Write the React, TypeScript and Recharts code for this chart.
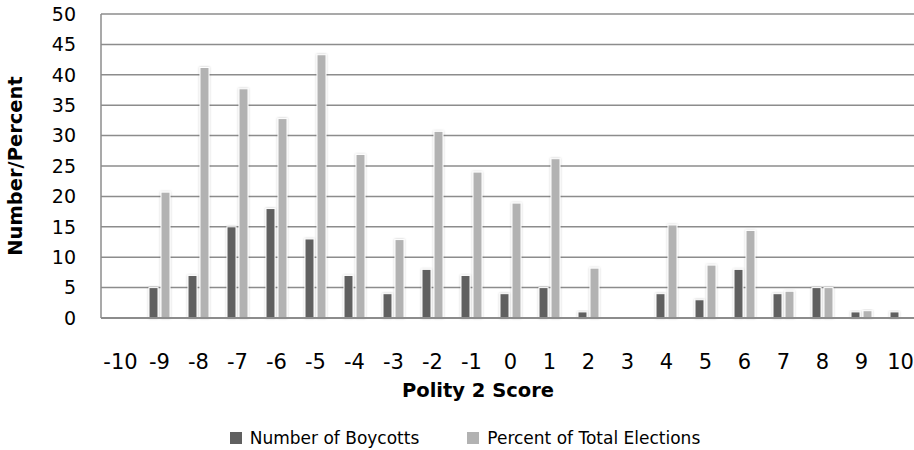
import React from 'react';
import { BarChart, Bar, XAxis, YAxis, CartesianGrid, Legend } from 'recharts';

// Polity 2 score categories and the two series
const scores = ['-10', '-9', '-8', '-7', '-6', '-5', '-4', '-3', '-2', '-1', '0', '1', '2', '3', '4', '5', '6', '7', '8', '9', '10'];
const boycotts = [0, 5, 7, 15, 18, 13, 7, 4, 8, 7, 4, 5, 1, 0, 4, 3, 8, 4, 5, 1, 1];
const percents = [0, 20.7, 41.2, 37.7, 32.8, 43.3, 26.9, 12.9, 30.7, 24, 18.9, 26.2, 8.2, 0, 15.3, 8.7, 14.4, 4.4, 5, 1.2, 0];
const yTicks = [0, 5, 10, 15, 20, 25, 30, 35, 40, 45, 50];

const seriesNames = ['Number of Boycotts', 'Percent of Total Elections'];
const colors = ['#606060', '#b2b2b2'];

const chartData = scores.map((score, i) => ({
  score,
  boycotts: boycotts[i],
  percent: percents[i]
}));

const BarShape = (props: any) => {
  const { x, y, width, height, fill } = props;
  if (!height || height <= 0) return null;
  return (
    <rect
      x={x}
      y={y}
      width={width}
      height={height}
      fill={fill}
      stroke="#ffffff"
      strokeWidth={1}
      filter="url(#barShadow)"
    />
  );
};

const YTitle = ({ viewBox }: any) => {
  const cx = viewBox.x + 15;
  const cy = viewBox.y + viewBox.height / 2;
  return (
    <text
      x={cx}
      y={cy}
      transform={`rotate(-90 ${cx} ${cy})`}
      textAnchor="middle"
      dominantBaseline="central"
      fontWeight="bold"
      fontSize={19.5}
      fill="#000"
    >
      Number/Percent
    </text>
  );
};

const XTitle = ({ viewBox }: any) => {
  return (
    <text
      x={478}
      y={viewBox.y + 79}
      textAnchor="middle"
      fontWeight="bold"
      fontSize={19.5}
      fill="#000"
    >
      Polity 2 Score
    </text>
  );
};

const LegendContent = () => (
  <div style={{ display: 'flex', justifyContent: 'center', alignItems: 'center', fontSize: 17, color: '#000' }}>
    {seriesNames.map((name, i) => (
      <div key={name} style={{ display: 'flex', alignItems: 'center', marginRight: i === 0 ? 48 : 0 }}>
        <span style={{ display: 'inline-block', width: 12, height: 12, background: colors[i], marginRight: 8 }} />
        <span>{name}</span>
      </div>
    ))}
  </div>
);

export default function App() {
  return (
    <div style={{ width: 914, height: 450, overflow: 'hidden', fontFamily: '"DejaVu Sans", sans-serif', background: '#fff' }}>
      <style>{`body { margin: 0; }`}</style>
      <BarChart
        width={930}
        height={450}
        data={chartData}
        margin={{ top: 14, right: 10, left: 0, bottom: 0 }}
        barSize={9}
        barGap={3}
      >
        <defs>
          <filter id="barShadow" x="-50%" y="-20%" width="200%" height="140%">
            <feDropShadow dx="0" dy="0" stdDeviation="1.2" floodColor="#000" floodOpacity="0.25" />
          </filter>
        </defs>
        <CartesianGrid vertical={false} stroke="#8c8c8c" strokeWidth={1.5} />
        <XAxis
          dataKey="score"
          interval={0}
          tickLine={false}
          tickSize={0}
          tickMargin={36}
          height={112}
          axisLine={{ stroke: '#8c8c8c', strokeWidth: 2 }}
          tick={{ fontSize: 21, fill: '#000' }}
          label={<XTitle />}
        />
        <YAxis
          domain={[0, 50]}
          ticks={yTicks}
          width={101}
          tickLine={false}
          tickSize={0}
          tickMargin={25}
          axisLine={{ stroke: '#8c8c8c', strokeWidth: 1.5 }}
          tick={{ fontSize: 19, fill: '#000' }}
          label={<YTitle />}
        />
        <Legend verticalAlign="bottom" content={<LegendContent />} wrapperStyle={{ left: 8, width: 914, top: 428 }} />
        <Bar dataKey="boycotts" name={seriesNames[0]} fill={colors[0]} shape={BarShape} isAnimationActive={false} />
        <Bar dataKey="percent" name={seriesNames[1]} fill={colors[1]} shape={BarShape} isAnimationActive={false} />
      </BarChart>
    </div>
  );
}
